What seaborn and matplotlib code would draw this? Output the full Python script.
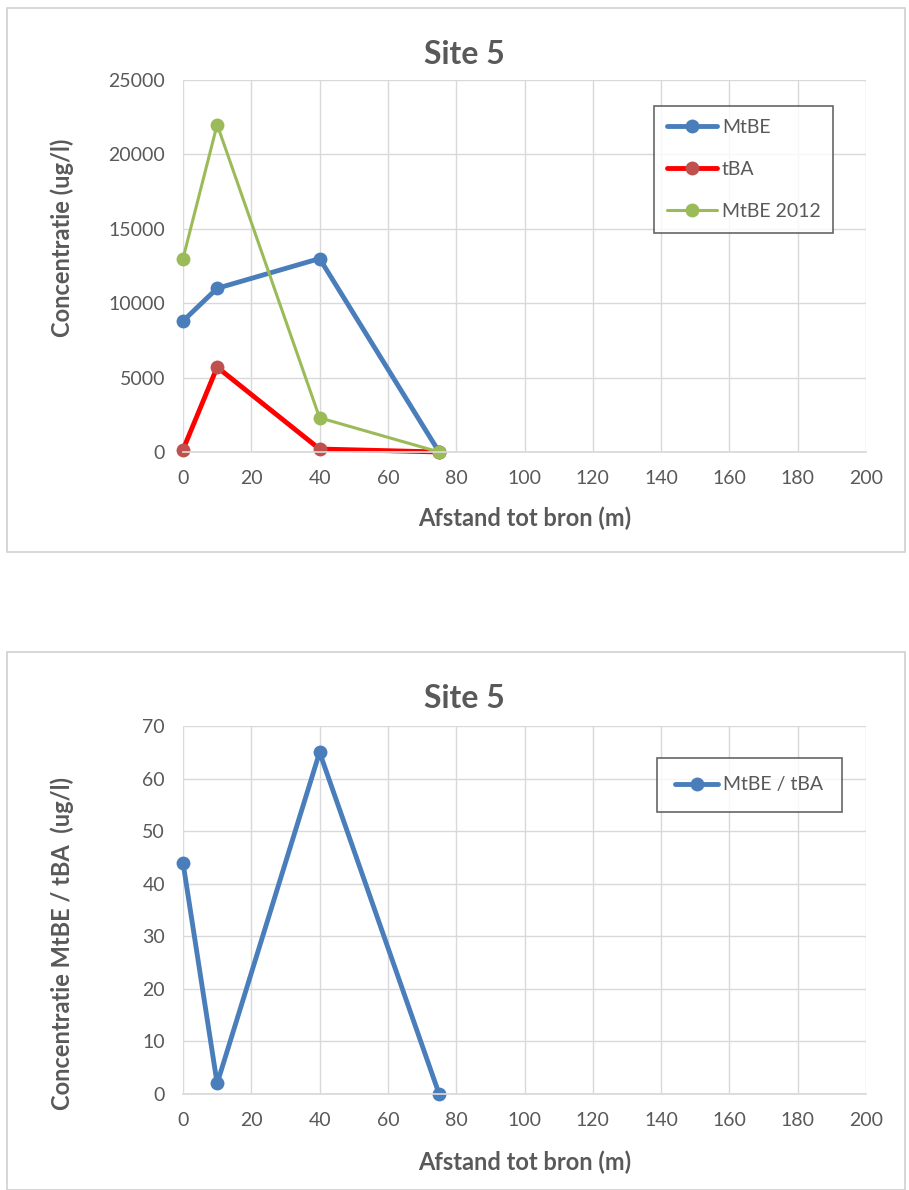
import pandas as pd
import matplotlib
matplotlib.use("Agg")
import matplotlib.pyplot as plt
import seaborn as sns
from matplotlib.patches import Rectangle

# Data
afstand = [0, 10, 40, 75]
mtbe = [8800, 11000, 13000, 0]
tba = [150, 5700, 200, 0]
mtbe_2012 = [13000, 22000, 2300, 0]
ratio = [44, 2, 65, 0]

x_ticks = list(range(0, 201, 20))
y_ticks_top = list(range(0, 25001, 5000))
y_ticks_bottom = list(range(0, 71, 10))

sns.set_theme(style="whitegrid")
plt.rcParams['font.family'] = ['Lato', 'DejaVu Sans']

BLUE = "#4A7EBB"
RED_LINE = "#FF0000"
RED_MARK = "#C0504D"
GREEN = "#9BBB59"
GRID = "#D9D9D9"
TXT = "#595959"
W, H = 909, 1190

fig = plt.figure(figsize=(W / 100, H / 100), dpi=100)

# chart frames
fig.patches.append(Rectangle((7 / W, 1 - 552 / H), 898 / W, 544 / H,
                             transform=fig.transFigure, fill=False,
                             edgecolor="#D0D0D0", lw=1.2))
fig.patches.append(Rectangle((7 / W, 0), 898 / W, 538 / H,
                             transform=fig.transFigure, fill=False,
                             edgecolor="#D0D0D0", lw=1.2))

ax1 = fig.add_axes([183 / W, 1 - 452 / H, 683 / W, 372 / H])
ax2 = fig.add_axes([183 / W, 1 - 1094 / H, 683 / W, 368 / H])

df_top = pd.DataFrame({"Afstand": afstand, "MtBE": mtbe, "tBA": tba, "MtBE 2012": mtbe_2012})

sns.lineplot(data=df_top, x="Afstand", y="MtBE", ax=ax1, color=BLUE, lw=3.5,
             marker="o", markersize=10, markeredgewidth=0, label="MtBE")
sns.lineplot(data=df_top, x="Afstand", y="tBA", ax=ax1, color=RED_LINE, lw=3.5,
             marker="o", markersize=10, markeredgewidth=0, markerfacecolor=RED_MARK,
             label="tBA")
sns.lineplot(data=df_top, x="Afstand", y="MtBE 2012", ax=ax1, color=GREEN, lw=2.2,
             marker="o", markersize=10, markeredgewidth=0, label="MtBE 2012")

df_bot = pd.DataFrame({"Afstand": afstand, "MtBE / tBA": ratio})
sns.lineplot(data=df_bot, x="Afstand", y="MtBE / tBA", ax=ax2, color=BLUE, lw=3.5,
             marker="o", markersize=10, markeredgewidth=0, label="MtBE / tBA")

for ax, yt in [(ax1, y_ticks_top), (ax2, y_ticks_bottom)]:
    ax.set_xlim(0, 200)
    ax.set_ylim(yt[0], yt[-1])
    ax.set_xticks(x_ticks)
    ax.set_yticks(yt)
    ax.grid(True, color=GRID, lw=1)
    for s in ["top", "right", "left"]:
        ax.spines[s].set_visible(False)
    ax.spines["bottom"].set_color(GRID)
    ax.tick_params(axis="both", labelsize=14, colors=TXT, length=0, pad=13)
    ax.set_xlabel("Afstand tot bron (m)", fontsize=17, fontweight="bold", color=TXT, va="center")
    for c in ax.lines:
        c.set_clip_on(False)

# titles centred on the chart frame, like Excel
fig.text(464 / W, 1 - 54 / H, "Site 5", fontsize=23, fontweight="bold", color=TXT,
         ha="center", va="center")
fig.text(464 / W, 1 - 698 / H, "Site 5", fontsize=23, fontweight="bold", color=TXT,
         ha="center", va="center")

ax1.set_ylabel("Concentratie (ug/l)", fontsize=17, fontweight="bold", color=TXT, va="center")
ax2.set_ylabel("Concentratie MtBE / tBA  (ug/l)", fontsize=17, fontweight="bold", color=TXT, va="center")
ax1.yaxis.set_label_coords((62 - 183) / 683, (452 - 238) / 372)
ax2.yaxis.set_label_coords((62 - 183) / 683, (1094 - 943) / 368)
ax1.xaxis.set_label_coords(0.5, (452 - 518) / 372)
ax2.xaxis.set_label_coords(0.5, (1094 - 1162) / 368)

leg1 = ax1.legend(loc="upper left", bbox_to_anchor=((654 - 183) / 683, (452 - 106) / 372),
                  borderaxespad=0, fontsize=14, frameon=True, fancybox=False,
                  edgecolor="#404040", labelspacing=1.3, handlelength=2.6,
                  handletextpad=0.25, borderpad=0.65)
leg1.get_frame().set_linewidth(1.2)
for t in leg1.get_texts():
    t.set_color(TXT)

leg2 = ax2.legend(loc="upper left", bbox_to_anchor=((657 - 183) / 683, (1094 - 758) / 368),
                  borderaxespad=0, fontsize=14, frameon=True, fancybox=False,
                  edgecolor="#404040", handlelength=2.2, handletextpad=0.25,
                  borderpad=0.95)
leg2.get_frame().set_linewidth(1.2)
for t in leg2.get_texts():
    t.set_color(TXT)

fig.savefig("out.png", dpi=100, facecolor="white")
